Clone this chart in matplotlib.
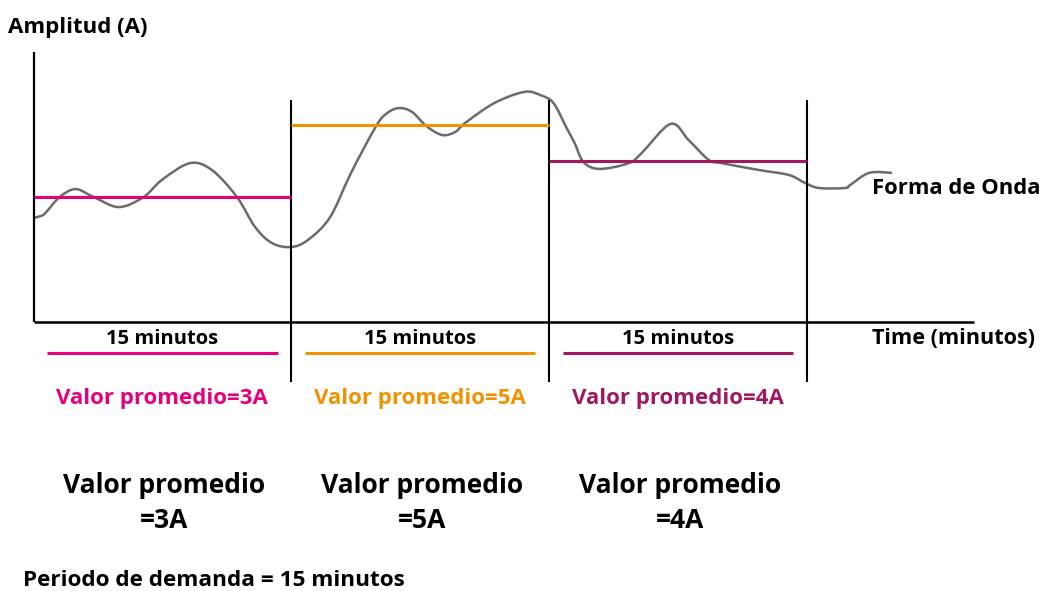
import numpy as np
import matplotlib
matplotlib.use('Agg')
import matplotlib.pyplot as plt
from matplotlib.path import Path
from matplotlib.patches import PathPatch

plt.rcParams['font.family'] = ['Open Sans', 'DejaVu Sans']
plt.rcParams['font.weight'] = 'bold'

# waveform: time (min), amplitude (A)
wave_t = [0.0, 0.41, 0.70, 1.52, 2.45, 3.50, 4.96, 6.41, 7.46, 9.10, 10.38, 11.84,
          12.89, 13.88, 14.99, 15.98, 17.26, 18.48, 19.94, 20.58, 21.28, 22.04, 22.86,
          23.79, 24.55, 25.13, 26.82, 28.57, 29.50, 30.26, 31.02, 31.49, 32.01, 32.94,
          34.64, 35.39, 37.08, 38.13, 39.30, 40.06, 42.22, 43.97, 44.90, 45.71, 47.23,
          47.52, 48.63, 49.97]
wave_a = [2.42, 2.47, 2.56, 3.00, 3.22, 3.00, 2.72, 3.00, 3.47, 3.94, 3.75, 3.00,
          2.17, 1.72, 1.61, 1.81, 2.44, 3.67, 4.97, 5.33, 5.47, 5.36, 4.97,
          4.72, 4.81, 5.06, 5.61, 5.92, 5.83, 5.61, 4.92, 4.50, 3.97, 3.78,
          3.94, 4.22, 5.03, 4.58, 4.03, 3.94, 3.75, 3.61, 3.39, 3.25, 3.25,
          3.33, 3.67, 3.67]

period_edges = [0, 15, 30, 45]
averages = [3, 5, 4]
avg_colors = ['#e6007e', '#f39200', '#a0185e']
period_label = '15 minutos'

fig = plt.figure(figsize=(10.43, 5.91), dpi=100)
ax = fig.add_axes([0, 0, 1, 1])
ax.set_xlim(-1.95, 58.75)
ax.set_ylim(-7.944, 8.472)
ax.axis('off')

W, H = 1043, 591
def fx(px):
    return px / W
def fy(py):
    return 1 - py / H

# axes of the diagram
base = -0.47
ax.plot([0, 0], [base, 7.03], color='black', lw=1.6, solid_capstyle='butt')
ax.plot([0, 54.75], [base, base], color='black', lw=1.8, solid_capstyle='butt')
for e in period_edges[1:]:
    ax.plot([e, e], [-2.14, 5.69], color='black', lw=1.5, solid_capstyle='butt')

# waveform as a smooth bezier path through the read points
pts = np.column_stack([wave_t, wave_a])
verts = [pts[0]]
codes = [Path.MOVETO]
for i in range(len(pts) - 1):
    p0 = pts[max(i - 1, 0)]
    p1 = pts[i]
    p2 = pts[i + 1]
    p3 = pts[min(i + 2, len(pts) - 1)]
    verts += [p1 + (p2 - p0) / 6, p2 - (p3 - p1) / 6, p2]
    codes += [Path.CURVE4] * 3
ax.add_patch(PathPatch(Path(verts, codes), facecolor='none', edgecolor='#6b6b6b',
                       lw=1.8))

# average lines per period
for i, avg in enumerate(averages):
    t0, t1 = period_edges[i], period_edges[i + 1]
    ax.plot([t0, t1], [avg, avg], color=avg_colors[i], lw=2.2, solid_capstyle='butt')
    mid = (t0 + t1) / 2
    ax.text(mid, -0.95, period_label, ha='center', va='center', fontsize=14.5)
    ax.plot([t0 + 0.8, t1 - 0.8], [-1.32, -1.32], color=avg_colors[i], lw=2.2,
            solid_capstyle='butt')
    ax.text(mid, -2.6, 'Valor promedio=%dA' % avg, ha='center', va='center',
            fontsize=16, color=avg_colors[i])
    ax.text(mid + 0.1, -5.5, 'Valor promedio\n=%dA' % avg, ha='center', va='center',
            fontsize=19, linespacing=1.4)

fig.text(fx(8), fy(28), 'Amplitud (A)', ha='left', va='center', fontsize=16)
fig.text(fx(872), fy(188), 'Forma de Onda', ha='left', va='center', fontsize=15.8)
fig.text(fx(872), fy(339), 'Time (minutos)', ha='left', va='center', fontsize=15.6)
fig.text(fx(23), fy(581), 'Periodo de demanda = 15 minutos', ha='left', va='center',
         fontsize=16.2)

fig.savefig('out.png', dpi=100, facecolor='white')
